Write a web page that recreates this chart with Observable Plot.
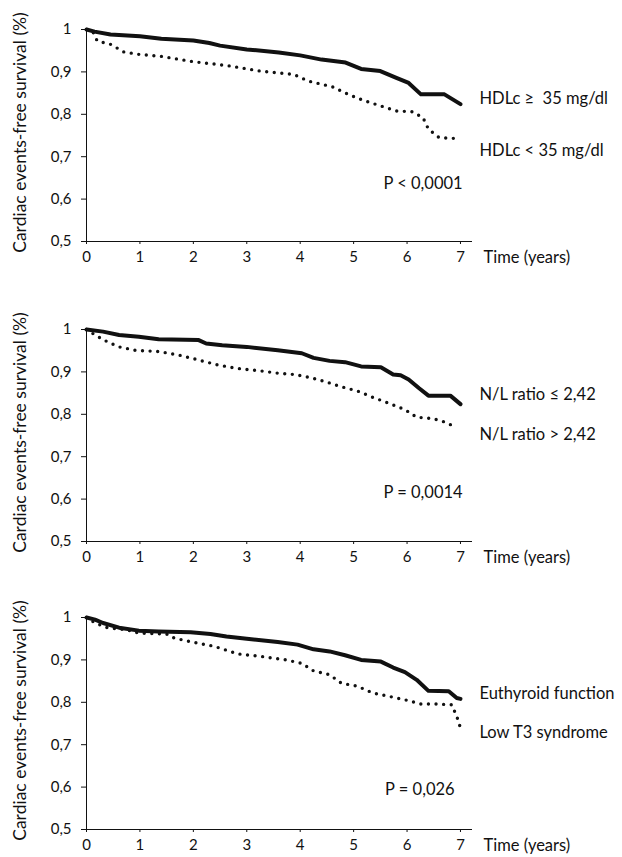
<!DOCTYPE html>
<html>
<head>
<meta charset="utf-8">
<script src="https://cdn.jsdelivr.net/npm/d3@7"></script>
<script src="https://cdn.jsdelivr.net/npm/@observablehq/plot@0.6"></script>
<style>
  html, body { margin: 0; padding: 0; background: #fff; }
  #wrap { position: relative; width: 622px; height: 857px; overflow: hidden; }
  .panel { position: absolute; left: 0; }
</style>
</head>
<body>
<div id="wrap"></div>
<script>
// ---- tick labels ----
const xTicks = [0, 1, 2, 3, 4, 5, 6, 7];
const yTicks = [0.5, 0.6, 0.7, 0.8, 0.9, 1];
const yTickLabels = ["0,5", "0,6", "0,7", "0,8", "0,9", "1"];
const yLabel = "Cardiac events-free survival (%)";
const xLabel = "Time (years)";

// ---- Panel 1: HDLc ----
const hdlHighT = [0, 0.15, 0.45, 1.0, 1.4, 2.0, 2.3, 2.5, 3.0, 3.6, 4.0, 4.4, 4.85, 5.14, 5.5, 5.8, 6.03, 6.26, 6.7, 7.0];
const hdlHighS = [1.0, 0.995, 0.988, 0.984, 0.978, 0.974, 0.968, 0.962, 0.953, 0.946, 0.939, 0.929, 0.922, 0.907, 0.902, 0.886, 0.874, 0.847, 0.847, 0.824];
const hdlLowT = [0, 0.13, 0.2, 0.45, 0.7, 1.0, 1.38, 2.0, 2.63, 3.25, 3.88, 4.16, 4.6, 4.9, 5.2, 5.5, 5.8, 6.1, 6.3, 6.4, 6.6, 6.9];
const hdlLowS = [1.0, 0.992, 0.973, 0.965, 0.947, 0.941, 0.937, 0.924, 0.915, 0.902, 0.894, 0.878, 0.865, 0.847, 0.832, 0.82, 0.808, 0.806, 0.792, 0.765, 0.745, 0.743];
const hdlLabels = ["HDLc \u2265  35 mg/dl", "HDLc < 35 mg/dl"];
const hdlP = "P < 0,0001";

// ---- Panel 2: N/L ratio ----
const nlLowT = [0, 0.31, 0.61, 0.98, 1.35, 2.1, 2.24, 2.54, 3.0, 3.58, 4.03, 4.25, 4.55, 4.84, 5.14, 5.51, 5.74, 5.88, 6.03, 6.22, 6.4, 6.81, 7.0];
const nlLowS = [1.0, 0.995, 0.987, 0.983, 0.977, 0.975, 0.967, 0.963, 0.959, 0.951, 0.944, 0.933, 0.926, 0.923, 0.913, 0.911, 0.894, 0.892, 0.882, 0.862, 0.844, 0.844, 0.824];
const nlHighT = [0, 0.16, 0.39, 0.61, 0.91, 1.35, 1.72, 2.1, 2.47, 2.84, 3.28, 3.58, 3.88, 4.18, 4.47, 4.77, 5.07, 5.36, 5.66, 5.96, 6.18, 6.48, 6.7, 6.89];
const nlHighS = [1.0, 0.987, 0.971, 0.959, 0.951, 0.948, 0.94, 0.928, 0.916, 0.908, 0.902, 0.897, 0.894, 0.887, 0.877, 0.865, 0.855, 0.84, 0.826, 0.811, 0.793, 0.79, 0.782, 0.771];
const nlLabels = ["N/L ratio \u2264 2,42", "N/L ratio > 2,42"];
const nlP = "P = 0,0014";

// ---- Panel 3: thyroid ----
const euT = [0, 0.16, 0.31, 0.61, 0.98, 1.35, 1.95, 2.32, 2.62, 3.0, 3.58, 3.95, 4.25, 4.55, 4.84, 5.14, 5.51, 5.74, 5.96, 6.18, 6.4, 6.78, 6.93, 7.0];
const euS = [1.0, 0.995, 0.987, 0.976, 0.969, 0.967, 0.965, 0.961, 0.955, 0.95, 0.942, 0.936, 0.925, 0.92, 0.911, 0.9, 0.896, 0.882, 0.871, 0.853, 0.827, 0.826, 0.81, 0.808];
const t3T = [0, 0.16, 0.39, 0.76, 0.98, 1.5, 1.65, 1.95, 2.39, 2.84, 3.28, 3.73, 4.03, 4.25, 4.55, 4.77, 5.07, 5.36, 5.66, 5.96, 6.26, 6.55, 6.84, 6.95, 7.0];
const t3S = [1.0, 0.987, 0.976, 0.971, 0.963, 0.961, 0.951, 0.943, 0.932, 0.914, 0.908, 0.9, 0.892, 0.874, 0.865, 0.845, 0.838, 0.822, 0.814, 0.806, 0.796, 0.796, 0.794, 0.76, 0.739];
const thyLabels = ["Euthyroid function", "Low T3 syndrome"];
const thyP = "P = 0,026";

const FONT = "Lato, 'Open Sans', sans-serif";
const INK = "#111";

function toRows(T, S) { return T.map((t, i) => ({t, s: S[i]})); }

function panel(cfg) {
  const solid = toRows(cfg.solidT, cfg.solidS);
  const dotted = toRows(cfg.dotT, cfg.dotS);
  return Plot.plot({
    width: 622,
    height: cfg.height,
    marginTop: 29,
    marginBottom: cfg.height - 241,
    marginLeft: 86,
    marginRight: 150,
    style: {fontFamily: FONT, fontSize: "15px", color: INK, background: "transparent", overflow: "visible"},
    x: {domain: [0, 7.225]},
    y: {domain: [0.5, 1]},
    marks: [
      Plot.axisX({ticks: xTicks, tickFormat: d => String(d), tickSize: 3, tickPadding: 7, label: null, fontSize: 15}),
      Plot.axisY({ticks: yTicks, tickFormat: d => yTickLabels[yTicks.indexOf(d)], tickSize: 5, tickPadding: 10, label: null, fontSize: 15}),
      Plot.ruleX([0], {y1: 0.5, y2: 1, stroke: INK, strokeWidth: 1}),
      Plot.ruleY([0.5], {x1: 0, x2: 7.225, stroke: INK, strokeWidth: 1}),
      Plot.line(dotted, {x: "t", y: "s", stroke: INK, strokeWidth: 3.4, strokeDasharray: "0 7.6", strokeLinecap: "round", strokeLinejoin: "round"}),
      Plot.line(solid, {x: "t", y: "s", stroke: INK, strokeWidth: 4, strokeLinecap: "round", strokeLinejoin: "round"}),
      Plot.text(cfg.labels, {x: 7, y: cfg.labelY, dx: 19, textAnchor: "start", fontSize: 16.5, fill: INK}),
      Plot.text([cfg.p], {x: cfg.pX, y: cfg.pY, textAnchor: "end", fontSize: 16.5, fill: INK}),
      Plot.text([xLabel], {x: 7, frameAnchor: "bottom", dx: 23, dy: 16, textAnchor: "start", lineAnchor: "middle", fontSize: 16.5, fill: INK}),
      Plot.text([yLabel], {frameAnchor: "left", rotate: -90, dx: -66, dy: -3, textAnchor: "middle", lineAnchor: "middle", fontSize: 17.5, fill: INK})
    ]
  });
}

const wrap = document.getElementById("wrap");
const panels = [
  {top: 0, height: 271, solidT: hdlHighT, solidS: hdlHighS, dotT: hdlLowT, dotS: hdlLowS, labels: hdlLabels, labelY: [0.837, 0.715], p: hdlP, pX: 7.04, pY: 0.637},
  {top: 300, height: 271, solidT: nlLowT, solidS: nlLowS, dotT: nlHighT, dotS: nlHighS, labels: nlLabels, labelY: [0.846, 0.752], p: nlP, pX: 7.04, pY: 0.615},
  {top: 588, height: 269, solidT: euT, solidS: euS, dotT: t3T, dotS: t3S, labels: thyLabels, labelY: [0.82, 0.729], p: thyP, pX: 6.89, pY: 0.594}
];
for (const cfg of panels) {
  const div = document.createElement("div");
  div.className = "panel";
  div.style.top = cfg.top + "px";
  div.appendChild(panel(cfg));
  wrap.appendChild(div);
}
</script>
</body>
</html>
